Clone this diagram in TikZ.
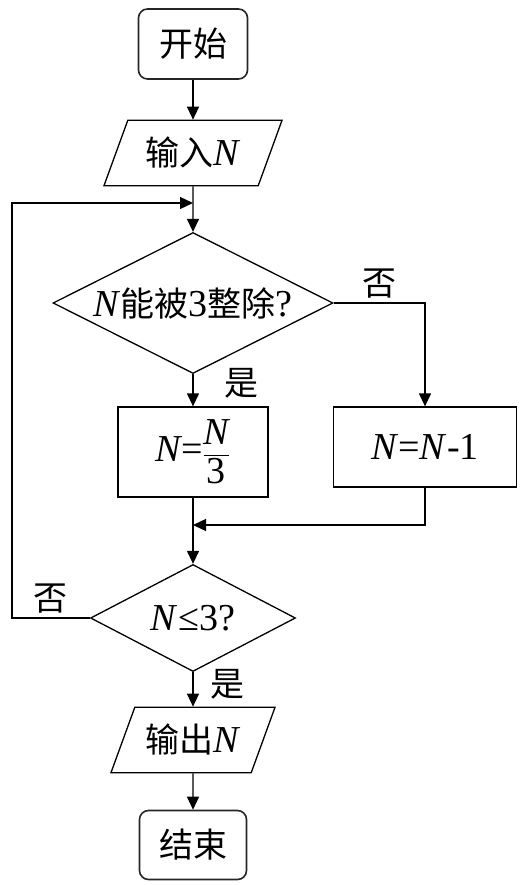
\documentclass[tikz,border=0pt]{standalone}
\usepackage{amsmath}
\usepackage{fontspec}
\setmainfont{Liberation Serif}[Scale=1.12]
\newfontfamily\cjk{Noto Sans CJK SC}
\newcommand{\zhtext}[1]{{\cjk #1}}
\usepackage{tikz}
\usetikzlibrary{positioning, arrows.meta, shapes.geometric}

\begin{document}
\begin{tikzpicture}[node distance=100pt,on grid,auto,line width=1.3pt,
        >={Triangle[length=13pt,width=12pt]},
        font=\fontsize{34pt}{40pt}\selectfont,
        term/.style={draw=black!85,line width=1.6pt,rectangle,rounded corners=9pt,minimum width=109pt,minimum height=70pt,inner sep=0pt},
        io/.style={draw,trapezium,trapezium left angle=70,trapezium right angle=110,
                   trapezium stretches body,inner xsep=0pt,inner ysep=17pt},
        proc/.style={draw,rectangle,inner sep=0pt},
        test/.style={draw,diamond,aspect=2,inner sep=0pt}]
        \useasboundingbox (0,0) rectangle (529pt,-885pt);
        \node[term] (start) at (193pt,-44pt) {\zhtext{开始}};
        \node[io,minimum width=178pt] (input) [below=109pt of start] {\zhtext{输入}\textit{N}};
        \node[test,minimum width=280pt,minimum height=141pt] (d_1) [below=150pt of input] {\textit{N}\zhtext{能被}3\zhtext{整除}?};
        \node[proc,minimum width=150pt,minimum height=90pt] (b_1) [below=149pt of d_1] {$\textit{N}\text{=}\dfrac{\textit{N}}{\text{3}}$};
        \node[proc,minimum width=183pt,minimum height=80pt] (b_2) [below right=144pt and 232pt of d_1] {\textit{N}=\textit{N}-1};
        \node[test,minimum width=205pt,minimum height=107pt] (d_2) [below=166pt of b_1] {\textit{N}≤3?};
        \node[io,minimum width=164pt] (output) [below=122pt of d_2] {\zhtext{输出}\textit{N}};
        \node[term,minimum width=107pt,minimum height=69pt] (stop) [below=105pt of output] {\zhtext{结束}};
        \coordinate[below=50pt of input] (join);
        \coordinate[below=73pt of b_1] (merge);
        \coordinate[left=181pt of d_2] (back);
         \path[->]
         (start) edge (input)
         (input) edge (d_1)
         (d_1) edge node[pos=0.27,right=27pt] {\zhtext{是}} (b_1)
         (b_1) edge (d_2)
         (d_2) edge node[pos=0.35,right=13pt] {\zhtext{是}} (output)
         (output) edge (stop);
         \draw[->] (d_1.east) -| node[pos=0.25,above] {\zhtext{否}} (b_2.north);
         \draw[->] (b_2.south) |- (merge);
         \draw[->] (d_2.west) -- node[above] {\zhtext{否}} (back) |- (join);
     \end{tikzpicture}
\end{document}
